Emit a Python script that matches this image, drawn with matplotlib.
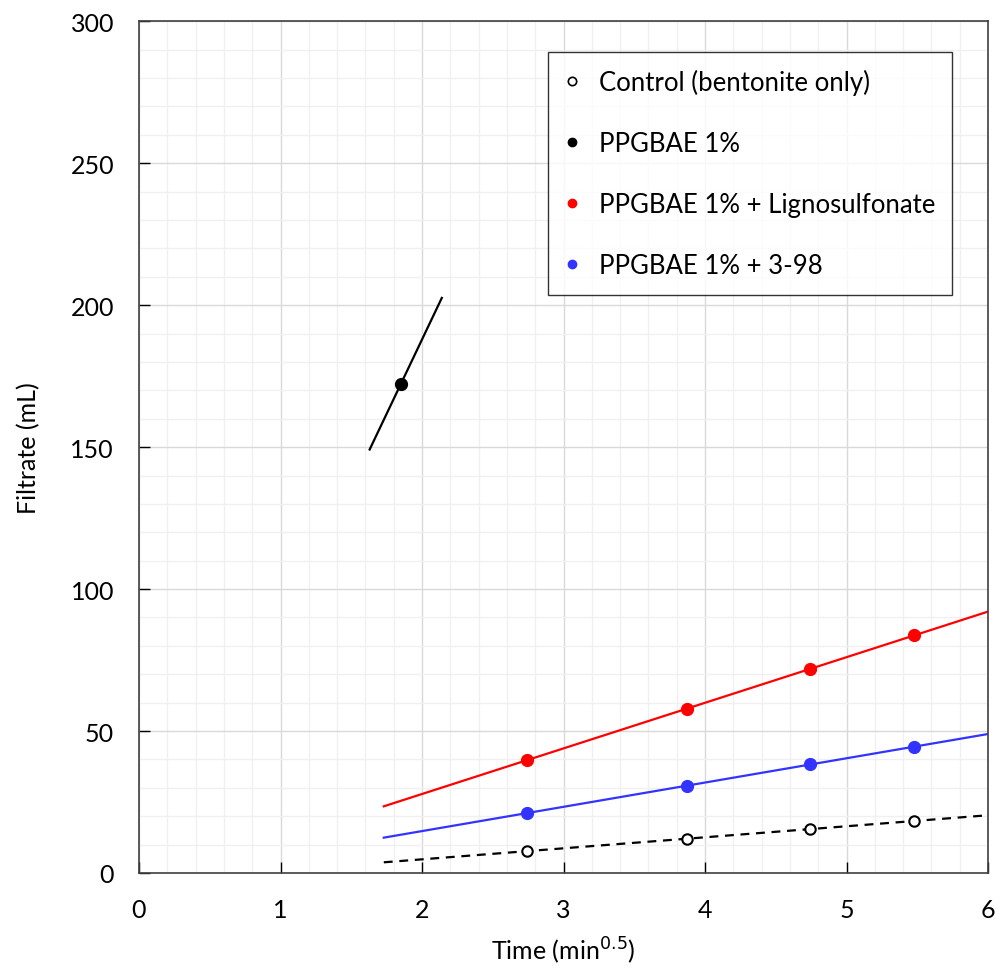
import numpy as np
import matplotlib
matplotlib.use("Agg")
import matplotlib.pyplot as plt
from matplotlib.ticker import MultipleLocator

plt.rcParams['font.family'] = ['Lato', 'DejaVu Sans']

# sqrt(time) for each sample, min^0.5
t_sqrt = [2.74, 3.87, 4.74, 5.48]

# filtrate volumes, mL
control = [7.7, 12.0, 15.5, 18.3]
ligno = [39.8, 57.7, 71.8, 83.8]
s398 = [21.1, 30.6, 38.4, 44.4]

# PPGBAE 1% alone: one point only, trendline slope
ppg_x = [1.85]
ppg_y = [172.2]
ppg_slope = 104.7
ppg_span = [1.63, 2.14]

trend_span = [1.73, 6.0]

labels = ['Control (bentonite only)', 'PPGBAE 1%',
          'PPGBAE 1% + Lignosulfonate', 'PPGBAE 1% + 3-98']

fig = plt.figure(figsize=(10, 9.7), dpi=100)
ax = fig.add_axes([0.139, 0.099, 0.849, 0.878])

def trend(y, color, ls='-'):
    k, b = np.polyfit(t_sqrt, y, 1)
    xs = np.array(trend_span)
    ax.plot(xs, k * xs + b, color=color, ls=ls, lw=1.6, zorder=2)

trend(control, 'black', ls=(0, (4, 3)))
trend(ligno, '#ff0000')
trend(s398, '#3333ff')

xs = np.array(ppg_span)
ax.plot(xs, ppg_y[0] + ppg_slope * (xs - ppg_x[0]), color='black', lw=1.6, zorder=2)

ax.plot(t_sqrt, control, 'o', ms=7.5, mfc='white', mec='black', mew=1.5, ls='none', zorder=3)
ax.plot(ppg_x, ppg_y, 'o', ms=8.5, color='black', ls='none', zorder=3)
ax.plot(t_sqrt, ligno, 'o', ms=8.5, color='#ff0000', ls='none', zorder=3)
ax.plot(t_sqrt, s398, 'o', ms=8.5, color='#3333ff', ls='none', zorder=3)

# legend shows markers only
h = [ax.plot([], [], 'o', ms=6, mfc='white', mec='black', mew=1.2, ls='none')[0],
     ax.plot([], [], 'o', ms=6, color='black', ls='none')[0],
     ax.plot([], [], 'o', ms=6, color='#ff0000', ls='none')[0],
     ax.plot([], [], 'o', ms=6, color='#3333ff', ls='none')[0]]
leg = ax.legend(h, labels, loc='upper right', bbox_to_anchor=(0.9576, 0.9636),
                fontsize=18.5, frameon=True, fancybox=False, labelspacing=1.4,
                handlelength=0.6, handletextpad=0.75, borderpad=0.65,
                borderaxespad=0)
leg.get_frame().set_edgecolor('black')
leg.get_frame().set_linewidth(1.0)

ax.set_xlim(0, 6)
ax.set_ylim(0, 300)
ax.xaxis.set_major_locator(MultipleLocator(1))
ax.xaxis.set_minor_locator(MultipleLocator(0.2))
ax.yaxis.set_major_locator(MultipleLocator(50))
ax.yaxis.set_minor_locator(MultipleLocator(10))
ax.grid(which='major', color='#d9d9d9', lw=1.0, zorder=0)
ax.grid(which='minor', color='#f0f0f0', lw=1.0, zorder=0)
ax.set_axisbelow(True)
ax.tick_params(which='major', direction='in', length=8, width=1, labelsize=18, pad=18)
ax.tick_params(which='minor', length=0)
for s in ax.spines.values():
    s.set_color('#404040')
    s.set_linewidth(1.2)

ax.set_xlabel('Time (min$^{0.5}$)', fontsize=18, labelpad=10)
ax.set_ylabel('Filtrate (mL)', fontsize=18, labelpad=22)

fig.savefig('out.png', dpi=100)
